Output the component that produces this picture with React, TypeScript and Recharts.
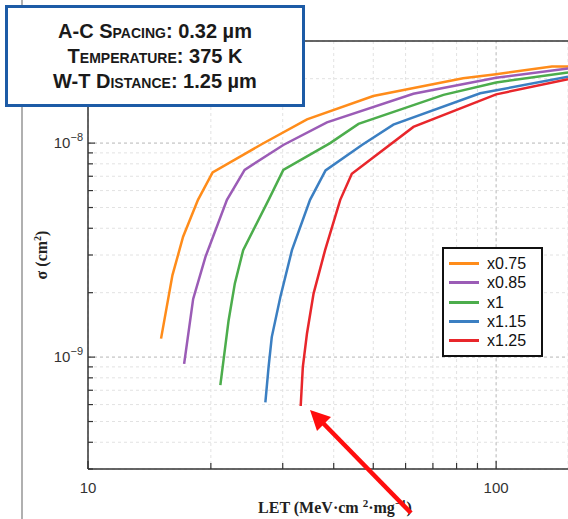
import React from 'react';
import { LineChart, Line, XAxis, YAxis, CartesianGrid, ReferenceLine } from 'recharts';

// curve names and colours (legend order)
const seriesNames = ['x0.75', 'x0.85', 'x1', 'x1.15', 'x1.25'];
const seriesColors = ['#ff8c1a', '#9b5cb6', '#4cad4c', '#3b7fc2', '#e8262b'];

// LET (MeV·cm²/mg) and cross-section (cm²)
const let075 = [15.1, 16.1, 17.1, 18.6, 20.2, 26.7, 34.4, 50, 83, 100, 137, 150];
const sig075 = [1.22e-9, 2.41e-9, 3.65e-9, 5.43e-9, 7.3e-9, 9.9e-9, 1.29e-8, 1.66e-8, 2.01e-8, 2.1e-8, 2.28e-8, 2.28e-8];

const let085 = [17.2, 18.1, 19.4, 21.9, 24.2, 30.1, 38.5, 62.7, 100, 150];
const sig085 = [9.3e-10, 1.87e-9, 2.94e-9, 5.43e-9, 7.5e-9, 9.8e-9, 1.25e-8, 1.7e-8, 2.02e-8, 2.23e-8];

const let100 = [21.1, 22.1, 22.9, 24.0, 27.7, 30.1, 39.2, 46, 74.3, 100, 150];
const sig100 = [7.4e-10, 1.48e-9, 2.21e-9, 3.16e-9, 5.43e-9, 7.5e-9, 1.0e-8, 1.23e-8, 1.68e-8, 1.92e-8, 2.14e-8];

const let115 = [27.2, 27.7, 28.2, 29.6, 31.6, 35, 38.2, 46.9, 56, 91.4, 150];
const sig115 = [6.14e-10, 9.0e-10, 1.24e-9, 1.91e-9, 3.16e-9, 5.43e-9, 7.45e-9, 9.8e-9, 1.22e-8, 1.71e-8, 2.04e-8];

const let125 = [33.2, 33.6, 34.4, 35.7, 38.1, 41.5, 44.3, 62.7, 100, 150];
const sig125 = [5.91e-10, 8.97e-10, 1.29e-9, 1.98e-9, 3.16e-9, 5.43e-9, 7.19e-9, 1.19e-8, 1.69e-8, 1.99e-8];

const xTicks = [10, 20, 30, 40, 50, 60, 70, 80, 90, 100];
const yTicks = [
  3e-10, 4e-10, 5e-10, 6e-10, 7e-10, 8e-10, 9e-10,
  1e-9, 2e-9, 3e-9, 4e-9, 5e-9, 6e-9, 7e-9, 8e-9, 9e-9,
  1e-8, 2e-8, 3e-8,
];

const infoLines = [
  ['A-C Spacing', '0.32 µm'],
  ['Temperature', '375 K'],
  ['W-T Distance', '1.25 µm'],
];

const series = [
  [let075, sig075],
  [let085, sig085],
  [let100, sig100],
  [let115, sig115],
  [let125, sig125],
].map(([xs, ys], i) => ({
  name: seriesNames[i],
  color: seriesColors[i],
  data: xs.map((x, j) => ({ x, s: ys[j] })),
}));

const isDecade = (v: number) => Math.abs(Math.log10(v) - Math.round(Math.log10(v))) < 1e-6;

const tickFont = '"Liberation Sans", Arial, sans-serif';

const YTick = (props: any) => {
  const { x, y, payload } = props;
  const v = payload.value;
  const dec = isDecade(v);
  return (
    <g>
      <line x1={x} x2={x + (dec ? 7 : 5)} y1={y} y2={y} stroke="#333" strokeWidth={1.2} />
      {dec && (
        <text x={x - 5} y={y} dy="0.35em" textAnchor="end" fontSize={15} fill="#333" fontFamily={tickFont}>
          10
          <tspan dy={-7} fontSize={11}>{'\u2212' + Math.abs(Math.round(Math.log10(v)))}</tspan>
        </text>
      )}
    </g>
  );
};

const XTick = (props: any) => {
  const { x, y, payload } = props;
  const v = payload.value;
  const dec = isDecade(v);
  return (
    <g>
      <line x1={x} x2={x} y1={y} y2={y - (dec ? 8 : 6)} stroke="#333" strokeWidth={1.2} />
      {dec && (
        <text x={x} y={y + 13} dy="0.71em" textAnchor="middle" fontSize={15} fill="#333" fontFamily={tickFont}>
          {v}
        </text>
      )}
    </g>
  );
};

export default function App() {
  return (
    <div style={{ position: 'absolute', left: 0, top: 0, width: 568, height: 519, overflow: 'hidden', background: '#fff' }}>
      {/* thin grey edge line left of the figure */}
      <div style={{ position: 'absolute', left: 21, top: 0, width: 1.5, height: 519, background: '#b0b0b0' }} />

      <LineChart width={568} height={519} margin={{ top: 41, right: 0, bottom: 20, left: 0 }}>
        <CartesianGrid stroke="#e2e2e2" strokeDasharray="3 3" />
        <XAxis
          dataKey="x"
          type="number"
          scale="log"
          domain={[10, 150]}
          allowDataOverflow
          ticks={xTicks}
          interval={0}
          height={30}
          tickSize={0}
          tickMargin={0}
          tickLine={false}
          tick={<XTick />}
          axisLine={{ stroke: '#333', strokeWidth: 1.5 }}
        />
        <YAxis
          dataKey="s"
          type="number"
          scale="log"
          domain={[3e-10, 3e-8]}
          allowDataOverflow
          ticks={yTicks}
          interval={0}
          width={88}
          tickSize={0}
          tickMargin={0}
          tickLine={false}
          tick={<YTick />}
          axisLine={{ stroke: '#333', strokeWidth: 1.5 }}
        />
        <ReferenceLine y={1e-8} stroke="#c4c4c4" strokeDasharray="3 3" />
        <ReferenceLine y={1e-9} stroke="#c4c4c4" strokeDasharray="3 3" />
        <ReferenceLine x={100} stroke="#c4c4c4" strokeDasharray="3 3" />
        <ReferenceLine y={3e-8} stroke="#333" strokeWidth={1.5} />
        {series.map((s) => (
          <Line
            key={s.name}
            data={s.data}
            dataKey="s"
            name={s.name}
            type="linear"
            stroke={s.color}
            strokeWidth={2.5}
            dot={false}
            activeDot={false}
            isAnimationActive={false}
          />
        ))}
      </LineChart>

      {/* axis titles */}
      <svg width={568} height={519} style={{ position: 'absolute', left: 0, top: 0, pointerEvents: 'none' }}>
        <text x={335} y={513} textAnchor="middle" fontFamily='"Liberation Serif", "Times New Roman", serif' fontWeight="bold" fontSize={16} fill="#222">
          LET (MeV·cm <tspan dy={-6} fontSize={11}>2</tspan><tspan dy={6}>·mg</tspan><tspan dy={-6} fontSize={11}>−1</tspan><tspan dy={6}>)</tspan>
        </text>
        <text
          transform="translate(47,255) rotate(-90)"
          textAnchor="middle"
          fontFamily='"Liberation Serif", "Times New Roman", serif'
          fontWeight="bold"
          fontSize={16}
          fill="#222"
        >
          σ (cm<tspan dy={-6} fontSize={10}>2</tspan><tspan dy={6}>)</tspan>
        </text>
        {/* red arrow annotation */}
        <line x1={411} y1={513} x2={322} y2={422} stroke="#ff0d0d" strokeWidth={4.5} />
        <polygon points="310,410 331,417 317,431" fill="#ff0d0d" />
      </svg>

      {/* legend */}
      <div
        style={{
          position: 'absolute',
          left: 442,
          top: 247,
          width: 92,
          padding: '5px 0 5px 5px',
          border: '2px solid #111',
          background: '#fff',
          fontFamily: tickFont,
          fontSize: 16,
          color: '#111',
        }}
      >
        {series.map((s) => (
          <div key={s.name} style={{ display: 'flex', alignItems: 'center', height: 19.3 }}>
            <div style={{ width: 30, height: 3, background: s.color, marginRight: 8 }} />
            <span style={{ lineHeight: '19px' }}>{s.name}</span>
          </div>
        ))}
      </div>

      {/* condition box */}
      <div
        style={{
          position: 'absolute',
          left: 5,
          top: 5,
          width: 294,
          height: 96,
          border: '3.5px solid #1d5ba6',
          background: '#fff',
          display: 'flex',
          flexDirection: 'column',
          justifyContent: 'center',
          alignItems: 'center',
          fontFamily: tickFont,
          fontWeight: 'bold',
          fontSize: 20,
          color: '#1a1a1a',
          lineHeight: '25px',
        }}
      >
        {infoLines.map(([label, value]) => (
          <div key={label}>
            <span style={{ fontVariant: 'small-caps' }}>{label}</span>: {value}
          </div>
        ))}
      </div>
    </div>
  );
}
